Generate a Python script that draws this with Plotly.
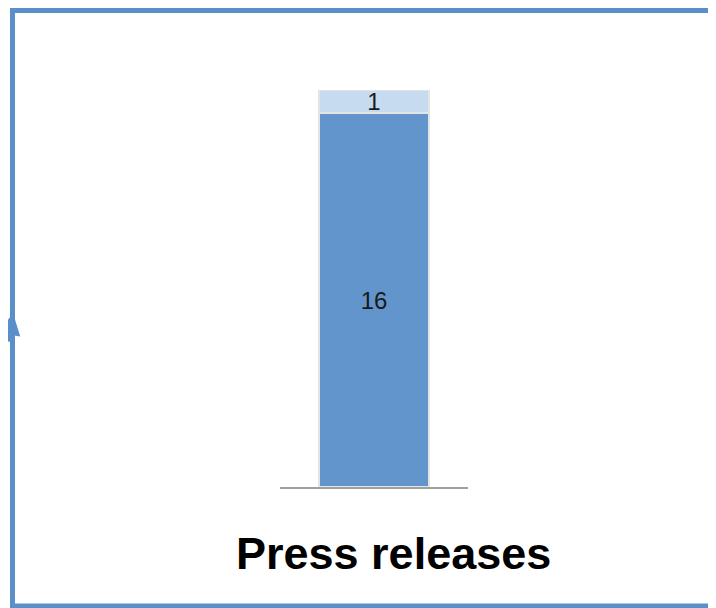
import plotly.graph_objects as go

categories = ["Press releases"]
lower_values = [16]
upper_values = [1]

W, H = 708, 600
OFF = 8  # page body margin shifts the figure by 8px
blue = "#5B8FC9"


def px_x(x):
    return (x - OFF) / W


def px_y(y):
    return (H - (y - OFF)) / H


label_font = dict(family="Liberation Sans, Arial", size=24, color="#1a1a1a")

fig = go.Figure()
fig.add_trace(go.Bar(
    x=categories, y=lower_values, name="lower",
    marker=dict(color="#6195CB", line=dict(color="#E4E4E4", width=2)),
    text=lower_values, textposition="inside", insidetextanchor="middle",
    constraintext="none", textangle=0, textfont=label_font,
))
fig.add_trace(go.Bar(
    x=categories, y=upper_values, name="upper",
    marker=dict(color="#C6DBF0", line=dict(color="#E4E4E4", width=2)),
    text=upper_values, textposition="inside", insidetextanchor="middle",
    constraintext="none", textangle=0, textfont=label_font,
))

# outer frame (only left, top, bottom visible)
fig.add_shape(type="rect", xref="paper", yref="paper",
              x0=px_x(12.5), x1=1.05, y0=px_y(606), y1=px_y(10.5),
              line=dict(color=blue, width=5), layer="above")

# arrow tip poking in from the left
fig.add_annotation(xref="paper", yref="paper", x=px_x(13), y=px_y(313),
                   ax=-16, ay=30, showarrow=True, arrowhead=2, arrowsize=1.1,
                   arrowwidth=4, arrowcolor=blue, text="")

fig.add_annotation(xref="paper", yref="paper", x=px_x(393.5), y=px_y(553),
                   text="<b>Press releases</b>", showarrow=False,
                   font=dict(family="Liberation Sans, Arial", size=45, color="black"),
                   xanchor="center", yanchor="middle")

fig.update_layout(
    width=W, height=H, barmode="stack", bargap=0.415, showlegend=False,
    margin=dict(l=0, r=0, t=0, b=0),
    paper_bgcolor="white", plot_bgcolor="white",
    xaxis=dict(domain=[px_x(280), px_x(468)], showticklabels=False, showgrid=False,
               showline=True, linecolor="#A0A0A0", linewidth=2, zeroline=False, ticks=""),
    yaxis=dict(domain=[px_y(487), px_y(90)], range=[0, 17], visible=False),
)

fig.write_html("out.html")
